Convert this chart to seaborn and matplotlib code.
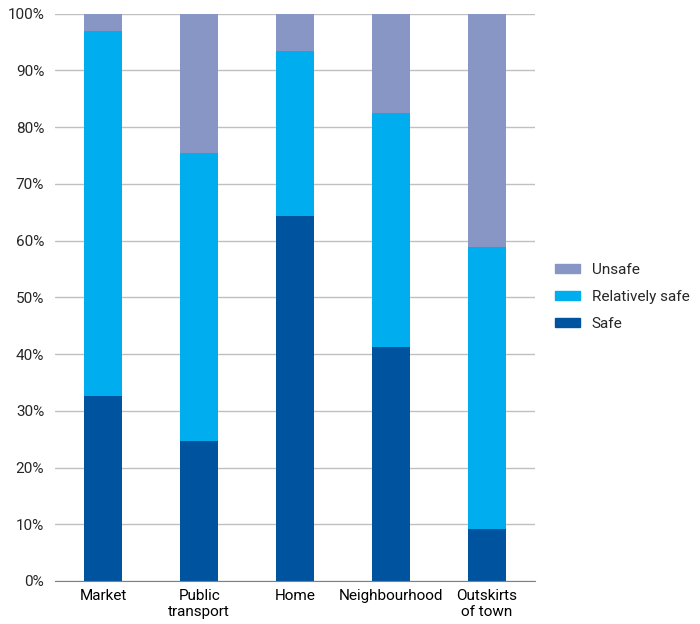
import seaborn as sns
import matplotlib.pyplot as plt
import pandas as pd
from matplotlib.patches import Patch
from matplotlib.ticker import FixedLocator, PercentFormatter

places = ["Market", "Public\ntransport", "Home", "Neighbourhood", "Outskirts\nof town"]
safe = [32.6, 24.6, 64.4, 41.3, 9.2]
relatively_safe = [64.4, 50.8, 29.1, 41.2, 49.6]
unsafe = [3.0, 24.6, 6.5, 17.5, 41.2]

colors = {"Safe": "#00539f", "Relatively safe": "#00aeef", "Unsafe": "#8896c6"}

df = pd.DataFrame({"place": places, "Safe": safe,
                   "Relatively safe": relatively_safe, "Unsafe": unsafe})
df["top_rel"] = df["Safe"] + df["Relatively safe"]
df["top_unsafe"] = df["top_rel"] + df["Unsafe"]

sns.set_style("white")
plt.rcParams["font.family"] = ["Roboto", "DejaVu Sans"]

fig = plt.figure(figsize=(7, 6.24), dpi=100)
ax = fig.add_axes([0.079, 0.069, 0.685, 0.909])

# stacked bars drawn as cumulative totals, tallest first
for col, key in [("top_unsafe", "Unsafe"), ("top_rel", "Relatively safe"), ("Safe", "Safe")]:
    sns.barplot(data=df, x="place", y=col, color=colors[key], width=0.4,
                saturation=1, linewidth=0, ax=ax, zorder=3)

ax.set_xlim(-0.5, 4.5)
ax.set_ylim(0, 100)
ax.set_yticks(range(0, 101, 10))
ax.yaxis.set_major_formatter(PercentFormatter(decimals=0))
ax.grid(axis="y", color="#c0c0c0", linewidth=1, zorder=0)
ax.set_xlabel("")
ax.set_ylabel("")

for s in ["left", "right", "top"]:
    ax.spines[s].set_visible(False)
ax.spines["bottom"].set_color("#808080")
ax.spines["bottom"].set_zorder(4)

ax.tick_params(axis="x", which="major", length=0, labelsize=11, pad=6, colors="black")
ax.tick_params(axis="y", length=0, labelsize=11, pad=8)
ax.xaxis.set_minor_locator(FixedLocator([0.5, 1.5, 2.5, 3.5]))
ax.tick_params(axis="x", which="minor", length=4, color="#c0c0c0", direction="out")

handles = [Patch(color=colors[k]) for k in ["Unsafe", "Relatively safe", "Safe"]]
fig.legend(handles, ["Unsafe", "Relatively safe", "Safe"],
           loc="center left", bbox_to_anchor=(0.793, 0.524), frameon=False,
           fontsize=11, handlelength=1.6, handleheight=0.55, handletextpad=0.8,
           labelspacing=0.85, borderpad=0, borderaxespad=0)

plt.savefig("out.png", dpi=100)
